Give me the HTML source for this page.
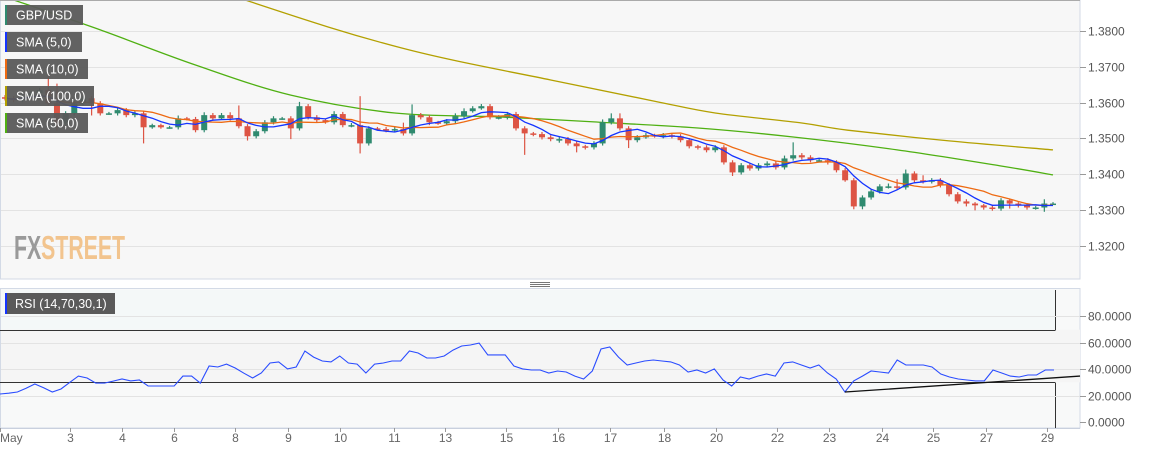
<!DOCTYPE html>
<html><head><meta charset="utf-8">
<style>
html,body{margin:0;padding:0;background:#fff;}
svg{display:block;font-family:"Liberation Sans",sans-serif;}
</style></head>
<body>
<svg id="chart" width="1151" height="449" viewBox="0 0 1151 449" xmlns="http://www.w3.org/2000/svg">
  <rect x="0.5" y="0.5" width="1079.5" height="278.5" fill="#f7f7f7" stroke="#d3dae6"/>
  <line x1="0" y1="0.5" x2="1080" y2="0.5" stroke="#aaa"/>
  <g id="priceGrid"></g>
  <g id="priceAxis"></g>
  <rect x="0.5" y="288.5" width="1079.5" height="139.5" fill="#f8f9f9" stroke="#d3dae6"/>
  <g id="rsiBands"></g>
  <g id="rsiGrid"></g>
  <g id="rsiAxis"></g>
  <g id="dateAxis"></g>
  <g id="sma100"></g>
  <g id="sma50"></g>
  <g id="candles"></g>
  <g id="sma10"></g>
  <g id="sma5"></g>
  <g id="rsiLine"></g>
  <g id="rsiTrendG"></g>
  <g>
    <line x1="530" y1="282.5" x2="550" y2="282.5" stroke="#777"/>
    <line x1="530" y1="284.5" x2="550" y2="284.5" stroke="#777"/>
    <line x1="530" y1="286.5" x2="550" y2="286.5" stroke="#777"/>
  </g>
  <g font-family="'Liberation Sans Narrow','Liberation Sans',sans-serif" font-weight="bold" font-size="33">
    <text x="14" y="259" textLength="111" lengthAdjust="spacingAndGlyphs"><tspan fill="#9a9a9a">FX</tspan><tspan fill="#f2c48e">STREET</tspan></text>
  </g>
  <g id="legend" font-size="12" fill="#fff"></g>
</svg>
<script>
// ---- data ----
const closes = [1.3612,1.3607,1.3618,1.3626,1.3635,1.3598,1.3542,1.3570,1.3598,1.3612,
1.3598,1.3570,1.3570,1.3579,1.3565,1.3570,1.3531,1.3537,1.3531,1.3531,
1.3556,1.3554,1.3523,1.3565,1.3556,1.3565,1.3556,1.3534,1.3506,1.3520,
1.3545,1.3556,1.3556,1.3528,1.3590,1.3559,1.3551,1.3545,1.3568,1.3537,
1.3537,1.3486,1.3528,1.3526,1.3523,1.3526,1.3514,1.3565,1.3559,1.3545,
1.3542,1.3548,1.3562,1.3576,1.3584,1.3590,1.3559,1.3559,1.3568,1.3528,
1.3514,1.3512,1.3503,1.3498,1.3498,1.3486,1.3478,1.3475,1.3486,1.3545,
1.3556,1.3528,1.3495,1.3503,1.3509,1.3506,1.3509,1.3506,1.3495,1.3478,
1.3475,1.3467,1.3475,1.3433,1.3405,1.3425,1.3416,1.3425,1.3430,1.3419,
1.3444,1.3453,1.3447,1.3439,1.3439,1.3433,1.3411,1.3383,1.3310,1.3335,
1.3352,1.3366,1.3366,1.3363,1.3402,1.3383,1.3380,1.3383,1.3369,1.3344,
1.3324,1.3318,1.3313,1.3307,1.3304,1.3327,1.3318,1.3313,1.3307,1.3307,
1.3318,1.3318];
const firstOpen = 1.3615;
const upWickPips = [6,6,8,6,6,45,55,6,8,6, 6,6,4,6,6,6,6,4,4,4, 8,4,6,8,6,6,8,36,6,6,
 6,6,4,6,12,6,6,4,8,6, 6,81,6,4,6,6,18,30,6,6, 4,6,8,8,6,6,6,6,6,6,
 6,4,6,6,6,6,6,4,6,8, 14,14,6,6,6,4,6,6,6,6, 4,6,6,6,6,6,6,6,6,6,
 8,36,6,6,6,6,6,6,6,6, 6,6,8,20,11,6,14,6,6,6, 6,6,4,4,8,6,4,4,4,4, 12,4];
const downWickPips = [6,6,6,6,6,6,20,6,6,6, 34,6,4,6,6,6,45,4,4,4, 6,4,6,6,6,4,6,6,12,6,
 6,6,4,30,6,6,6,4,6,6, 6,28,6,4,6,6,6,6,6,8, 4,6,6,6,4,4,6,6,6,6,
 60,6,6,6,10,6,17,6,6,6, 6,6,22,6,4,4,6,6,6,6, 6,6,6,6,10,6,6,6,6,6,
 6,6,6,6,6,6,6,4,8,8, 6,6,6,6,6,6,6,6,6,6, 6,8,14,6,6,6,14,6,6,6, 12,4];
const sma50Idx = [0,11,22,33,45,57,68,80,91,103,115,121];
const sma50Val = [1.3895,1.3803,1.3705,1.3621,1.3571,1.3560,1.3546,1.3529,1.3504,1.3468,1.3423,1.3398];
const sma100Idx = [0,27.7,45.7,63,75,82,92,97.3,109,121];
const sma100Val = [1.4121,1.3887,1.3753,1.3663,1.3604,1.3571,1.3543,1.3523,1.3493,1.3468];
const rsiValues = [21.2,21.8,22.7,25.5,28.8,26,22.7,25,30,34.8,33.3,29.5,29.5,31,32.6,31.1,31.8,27.3,27.3,27.3,
27.3,34.8,34.8,29.5,42.4,41.7,43.9,40.9,37,33.3,37.1,44.7,45.5,40.2,41.7,53.8,49.2,46.2,45.5,50,
44.7,43.9,37.1,43.9,44.7,46.2,46.2,53.8,52.3,48.5,48.5,50,54.5,57.6,58.3,59.8,50.8,50.8,50.8,42.4,40.2,
39.4,39.4,37.1,38.6,37.9,34.8,32.6,38.6,55.3,56.8,49.2,43.2,44.7,46.2,47,46.2,45.5,43.2,37.9,39.4,
37.1,40.2,31.8,27.3,34.1,32.6,34.8,36.4,34.8,44.7,45.5,43.2,40.9,43.2,37.1,32.6,22.7,31.1,34.8,38.6,
37.9,37.1,47,43.2,43.2,43.2,41.7,36.4,34.1,32.6,31.8,31.1,31.1,39.4,37.1,34.8,34.1,35.6,35.6,39.4,39.4];
const rsiTrendStartIdx = 97;
const rsiTrendEndValue = 34.8;
const priceTicks = [1.38,1.37,1.36,1.35,1.34,1.33,1.32];
const priceTickLabels = ["1.3800","1.3700","1.3600","1.3500","1.3400","1.3300","1.3200"];
const rsiTicks = [80,60,40,20,0];
const rsiTickLabels = ["80.0000","60.0000","40.0000","20.0000","0.0000"];
const rsiLevels = [70,30];
const dateLabels = ["3","4","6","8","9","10","11","13","15","16","17","18","20","22","23","24","25","27","29"];
const dateIdx = [7.5,13.5,19.5,26.6,32.7,38.7,44.9,50.8,57.9,63.9,69.9,76.1,82.1,89.1,95.1,101.2,107.2,113.3,120.3];
const legendLabels = ["GBP/USD","SMA (5,0)","SMA (10,0)","SMA (100,0)","SMA (50,0)"];
const legendColors = ["#2f8a6f","#1434ff","#ee6a12","#b3a000","#4fb012"];

// ---- scales ----
const NS = "http://www.w3.org/2000/svg";
const X0 = 5, X1 = 1053;
const xC = i => X0 + i * (X1 - X0) / (closes.length - 1);
const yP = p => 31 + (1.38 - p) * 3580;
const yR = v => 422 - v * 1.32;
const xR = k => k * 1054 / (rsiValues.length - 1);
function mk(tag, attrs, parent) {
  const e = document.createElementNS(NS, tag);
  for (const k in attrs) e.setAttribute(k, attrs[k]);
  parent.appendChild(e); return e;
}
const g = id => document.getElementById(id);
function smoothPath(pts) {
  let d = "M" + pts[0][0].toFixed(1) + "," + pts[0][1].toFixed(1);
  for (let i = 0; i < pts.length - 1; i++) {
    const p0 = pts[Math.max(0, i - 1)], p1 = pts[i], p2 = pts[i + 1], p3 = pts[Math.min(pts.length - 1, i + 2)];
    const c1x = p1[0] + (p2[0] - p0[0]) / 6, c1y = p1[1] + (p2[1] - p0[1]) / 6;
    const c2x = p2[0] - (p3[0] - p1[0]) / 6, c2y = p2[1] - (p3[1] - p1[1]) / 6;
    d += " C" + c1x.toFixed(1) + "," + c1y.toFixed(1) + " " + c2x.toFixed(1) + "," + c2y.toFixed(1) + " " + p2[0].toFixed(1) + "," + p2[1].toFixed(1);
  }
  return d;
}

// price grid + axis
priceTicks.forEach((p, i) => {
  const y = Math.round(yP(p)) + 0.5;
  const ln = mk("line", {x1: 1, x2: 1080, y1: y, y2: y, stroke: "#e3e3e3"}, g("priceGrid"));
  
  
  const tk = mk("line", {x1: 1080, x2: 1086, y1: y, y2: y, stroke: "#999"}, g("priceAxis"));
  
  
  const t = mk("text", {x: 1088, y: y + 4, "font-size": 12, fill: "#555"}, g("priceAxis"));
  t.textContent = priceTickLabels[i];
  
  
});

// rsi bands
{
  const b1 = mk("rect", {x: 1, y: 290, width: 1054, height: yR(70) - 290, fill: "#f4f8f8"}, g("rsiBands"));
  
  
  const b2 = mk("rect", {x: 1, y: yR(70), width: 1079, height: yR(30) - yR(70), fill: "#f5f5f5"}, g("rsiBands"));
  
  
}
rsiTicks.forEach((v, i) => {
  const y = Math.round(yR(v)) + 0.5;
  if (v > 0) {
    const ln = mk("line", {x1: 1, x2: 1080, y1: y, y2: y, stroke: "#e3e3e3"}, g("rsiGrid"));
    
    
  }
  const tk = mk("line", {x1: 1080, x2: 1086, y1: y, y2: y, stroke: "#999"}, g("rsiAxis"));
  
  
  const t = mk("text", {x: 1088, y: y + 4, "font-size": 12, fill: "#555"}, g("rsiAxis"));
  t.textContent = rsiTickLabels[i];
  
  
});
rsiLevels.forEach((v, i) => {
  const y = Math.round(yR(v)) + 0.5;
  const ln = mk("line", {x1: 0, x2: 1055, y1: y, y2: y, stroke: "#333"}, g("rsiBands"));
  
  
  const vl = mk("line", {x1: 1055.5, x2: 1055.5, y1: i === 0 ? 290 : y, y2: i === 0 ? y : 428, stroke: "#333"}, g("rsiBands"));
  
  
});

// date axis
{
  const ax = mk("line", {x1: 0, x2: 1080, y1: 428.5, y2: 428.5, stroke: "#c9d0de"}, g("dateAxis"));
  
  
  const m = mk("text", {x: 0, y: 442, "font-size": 12, fill: "#666"}, g("dateAxis"));
  m.textContent = "May";
  
  
  const mt = mk("line", {x1: 0.5, x2: 0.5, y1: 428, y2: 432, stroke: "#999"}, g("dateAxis"));
  
  
}
dateLabels.forEach((d, i) => {
  const x = Math.round(xC(dateIdx[i])) + 0.5;
  const tk = mk("line", {x1: x, x2: x, y1: 428, y2: 432, stroke: "#999"}, g("dateAxis"));
  
  
  const t = mk("text", {x: x, y: 442, "font-size": 12, fill: "#666", "text-anchor": "middle"}, g("dateAxis"));
  t.textContent = d;
  
  
});

// candles
closes.forEach((c, i) => {
  const o = i === 0 ? firstOpen : closes[i - 1];
  const hi = Math.max(o, c) + upWickPips[i] * 0.0001;
  const lo = Math.min(o, c) - downWickPips[i] * 0.0001;
  const up = c >= o;
  const col = up ? "#2f8a6f" : "#dd5444";
  const x = xC(i);
  const grp = mk("g", {}, g("candles"));
  
  
  mk("line", {x1: x, x2: x, y1: yP(hi), y2: yP(lo), stroke: col, "stroke-width": 1.2}, grp);
  const top = yP(Math.max(o, c)), h = Math.max(1.5, yP(Math.min(o, c)) - top);
  mk("rect", {x: x - 3, y: top, width: 6, height: h, fill: col}, grp);
});

// SMAs
function smaPts(n) {
  const pts = [];
  for (let i = 0; i < closes.length; i++) {
    const s = closes.slice(Math.max(0, i - n + 1), i + 1);
    pts.push(xC(i).toFixed(1) + "," + yP(s.reduce((a, b) => a + b, 0) / s.length).toFixed(1));
  }
  return pts.join(" ");
}
{
  const l5 = mk("polyline", {points: smaPts(5), fill: "none", stroke: "#1434ff", "stroke-width": 1.3}, g("sma5"));
  
  
  const l10 = mk("polyline", {points: smaPts(10), fill: "none", stroke: "#ee6a12", "stroke-width": 1.3}, g("sma10"));
  
  
  const p50 = sma50Idx.map((k, j) => [xC(k), yP(sma50Val[j])]);
  const l50 = mk("path", {d: smoothPath(p50), fill: "none", stroke: "#4fb012", "stroke-width": 1.3}, g("sma50"));
  
  
  const p100 = sma100Idx.map((k, j) => [xC(k), yP(sma100Val[j])]);
  const l100 = mk("path", {d: smoothPath(p100), fill: "none", stroke: "#b3a000", "stroke-width": 1.3}, g("sma100"));
  
  
}
document.querySelectorAll("#sma5,#sma10,#sma50,#sma100,#candles").forEach(e => e.setAttribute("clip-path", "url(#pclip)"));
{
  const defs = mk("defs", {}, g("chart"));
  const cp = mk("clipPath", {id: "pclip"}, defs);
  mk("rect", {x: 1, y: 1, width: 1079, height: 278}, cp);
}

// RSI line
{
  const pts = rsiValues.map((v, k) => xR(k).toFixed(1) + "," + yR(v).toFixed(1)).join(" ");
  const rl = mk("polyline", {points: pts, fill: "none", stroke: "#2a4cff", "stroke-width": 1.1}, g("rsiLine"));
  
  
  const tl = mk("line", {x1: xR(rsiTrendStartIdx), y1: yR(rsiValues[rsiTrendStartIdx]), x2: 1080, y2: yR(rsiTrendEndValue), stroke: "#111", "stroke-width": 1.3}, g("rsiTrendG"));
  
  
}

// legend
const legendWidths = [78, 77, 83, 89, 83];
legendLabels.forEach((lab, i) => {
  const y = 5 + i * 27;
  const grp = mk("g", {}, g("legend"));
  
  
  mk("rect", {x: 5, y: y, width: legendWidths[i], height: 20, fill: "#5a5a5a", opacity: 0.95}, grp);
  mk("rect", {x: 5, y: y, width: 2, height: 20, fill: legendColors[i]}, grp);
  const t = mk("text", {x: 16, y: y + 14.5, "font-size": 12.5, fill: "#fff"}, grp);
  t.textContent = lab;
});
{
  const grp = mk("g", {}, g("legend"));
  
  
  mk("rect", {x: 5, y: 293, width: 110, height: 21, fill: "#5a5a5a"}, grp);
  mk("rect", {x: 5, y: 293, width: 2, height: 21, fill: "#1434ff"}, grp);
  const t = mk("text", {x: 15, y: 308, "font-size": 12.5, fill: "#fff"}, grp);
  t.textContent = "RSI (14,70,30,1)";
}
</script>
</body></html>
